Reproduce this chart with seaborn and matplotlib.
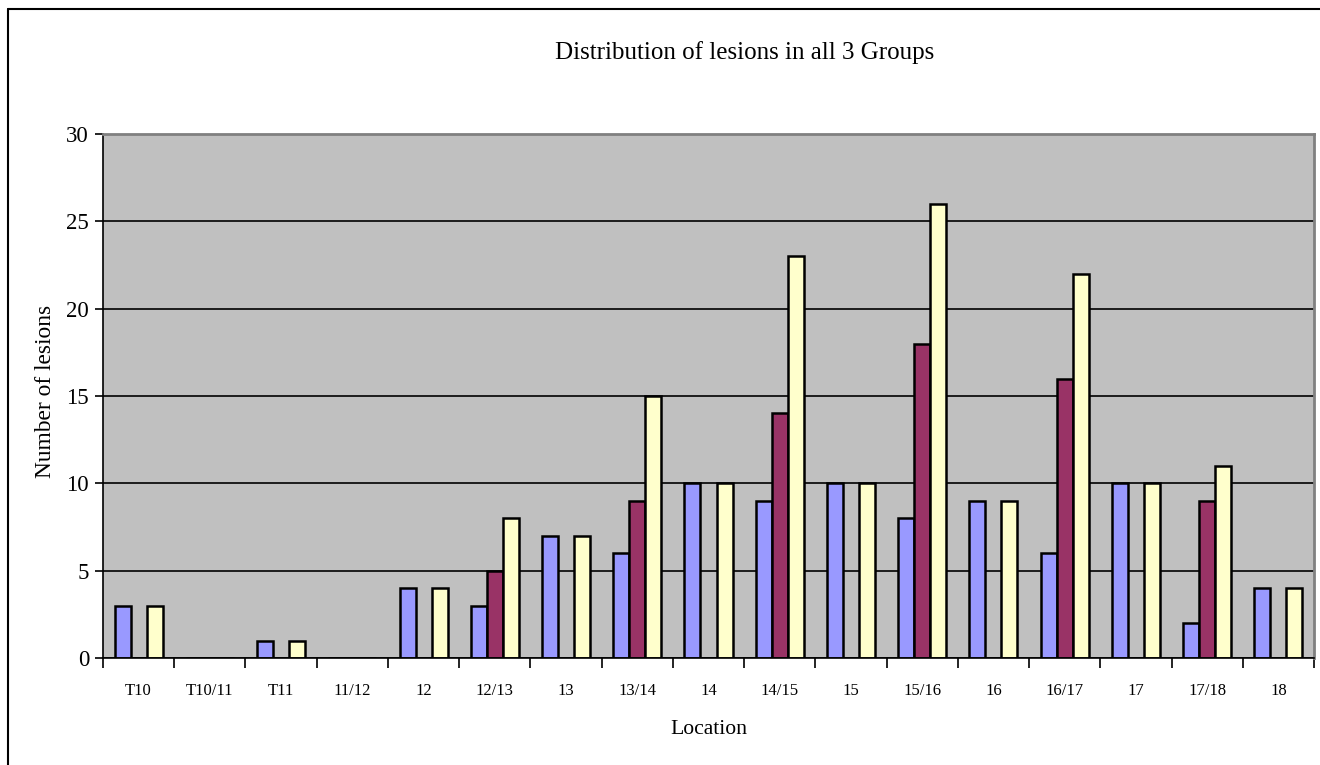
import numpy as np
import pandas as pd
import matplotlib
matplotlib.use("Agg")
import matplotlib.pyplot as plt
from matplotlib.lines import Line2D
import seaborn as sns

locations = ["T10", "T10/11", "T11", "11/12", "12", "12/13", "13", "13/14", "14",
             "14/15", "15", "15/16", "16", "16/17", "17", "17/18", "18"]
group1 = [3, 0, 1, 0, 4, 3, 7, 6, 10, 9, 10, 8, 9, 6, 10, 2, 4]
group2 = [0, 0, 0, 0, 0, 5, 0, 9, 0, 14, 0, 18, 0, 16, 0, 9, 0]
group3 = [3, 0, 1, 0, 4, 8, 7, 15, 10, 23, 10, 26, 9, 22, 10, 11, 4]
groups = ["Group 1", "Group 2", "Group 3"]
colors = ["#9999FF", "#993366", "#FFFFCC"]

df = pd.DataFrame({
    "Location": locations * 3,
    "Group": [groups[0]] * len(locations) + [groups[1]] * len(locations) + [groups[2]] * len(locations),
    "Count": group1 + group2 + group3,
})

sns.set_style("white")
plt.rcParams["font.family"] = ["Liberation Serif", "DejaVu Serif"]
plt.rcParams["text.color"] = "black"
plt.rcParams["axes.labelcolor"] = "black"
plt.rcParams["xtick.color"] = "black"
plt.rcParams["ytick.color"] = "black"

fig = plt.figure(figsize=(13.2, 7.65), dpi=100)
ax = fig.add_axes([103 / 1320, 1 - 658 / 765, (1314 - 103) / 1320, (658 - 134) / 765])

sns.barplot(data=df, x="Location", y="Count", hue="Group", order=locations,
            hue_order=groups, palette=colors, width=0.675, edgecolor="black",
            linewidth=1.8, saturation=1, ax=ax, legend=False, errorbar=None)

ax.set_facecolor("#C0C0C0")
ax.set_ylim(0, 30)
ax.set_xlim(-0.5, len(locations) - 0.5)
ax.set_yticks(range(0, 31, 5))
ax.yaxis.grid(True, color="black", linewidth=1.2)
ax.set_axisbelow(True)

for s in ["top", "right"]:
    ax.spines[s].set_color("#808080")
    ax.spines[s].set_linewidth(2)
for s in ["left", "bottom"]:
    ax.spines[s].set_color("black")
    ax.spines[s].set_linewidth(1.2)

# x ticks at category boundaries, labels centered
ax.set_xticks(np.arange(-0.5, len(locations), 1.0))
ax.set_xticklabels([])
ax.set_xticks(np.arange(len(locations)), minor=True)
ax.set_xticklabels(locations, minor=True, fontsize=12)
ax.tick_params(axis="x", which="major", direction="out", length=7, width=1.2, color="black", bottom=True)
ax.tick_params(axis="x", which="minor", length=0, pad=18)
ax.tick_params(axis="y", direction="out", length=6, width=1.2, color="black", left=True, labelsize=16.5, pad=4)

ax.set_xlabel("Location", fontsize=15.6, labelpad=15)
ax.set_ylabel("Number of lesions", fontsize=16.8, labelpad=9)
ax.yaxis.set_label_coords(-47 / 1211, 1 - (391 - 134) / 524)

fig.text(745 / 1320, 1 - 53 / 765, "Distribution of lesions in all 3 Groups",
         ha="center", va="center", fontsize=18)

# chart frame (left and top edges)
fig.add_artist(Line2D([8 / 1320, 8 / 1320], [0, 1 - 9 / 765], transform=fig.transFigure, color="black", linewidth=1.5))
fig.add_artist(Line2D([8 / 1320, 1], [1 - 9 / 765, 1 - 9 / 765], transform=fig.transFigure, color="black", linewidth=1.5))

fig.savefig("out.png", dpi=100)
